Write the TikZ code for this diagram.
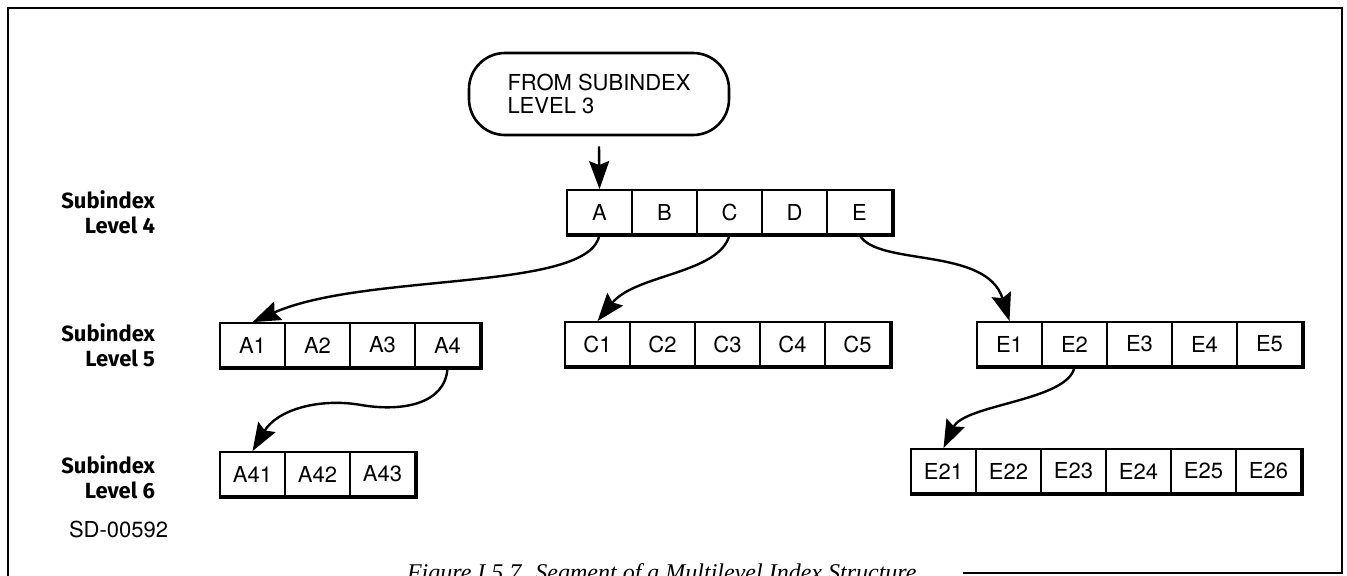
\documentclass[tikz,border=0pt]{standalone}
\usepackage{fontspec}
\setmainfont{TeX Gyre Heros}
\newfontfamily\levelfont{Fira Sans}
\newfontfamily\capfont{Liberation Serif}
\usetikzlibrary{arrows.meta}
\tikzset{
    cell/.style={draw, line width=0.9pt, minimum width=32.5pt, minimum height=22pt,
            inner sep=0pt, font=\fontsize{11}{12}\selectfont},
    shade/.style={line width=2.2pt},
    link/.style={line width=1.2pt, -{Stealth[length=14pt,width=10pt,inset=2pt]}},
    level/.style={anchor=east, align=right, font=\levelfont\bfseries\fontsize{11}{12.5}\selectfont},
}

\begin{document}
\begin{tikzpicture}[x=0.5pt, y=-0.5pt]
        \useasboundingbox (0,0) rectangle (1347,575);
        \clip (0,0) rectangle (1347,575);
        %frame round the figure
        \draw[line width=1.4pt] (963,573) -- (1342,573) -- (1342,8) -- (8,8) -- (8,590);
        \node[anchor=base west, font=\capfont\itshape\fontsize{12}{14}\selectfont] (caption) at (400,580)
            {Figure I.5.7. Segment of a Multilevel Index Structure};
        %entry from level 3
        \node[draw, line width=1.3pt, rounded corners=18pt, minimum width=130pt, minimum height=41pt,
            align=left, font=\fontsize{11}{11.5}\selectfont] (from) at (599,94) {FROM SUBINDEX\\LEVEL 3};
        %level labels
        \node[level] (lev4) at (162,212) {Subindex\\Level 4};
        \node[level] (lev5) at (162,345) {Subindex\\Level 5};
        \node[level] (lev6) at (162,477) {Subindex\\Level 6};
        \node[anchor=west, font=\fontsize{11}{12}\selectfont] (sd) at (62,529) {SD-00592};
        %subindex level 4
        \foreach \n [count=\i from 0] in {A,B,C,D,E}
            \node[cell] (\n) at (599.5+65*\i, 212) {\n};
        \draw[shade] (A.south west) -- (E.south east) -- (E.north east);
        %subindex level 5
        \foreach \n [count=\i from 0] in {A1,A2,A3,A4}
            \node[cell] (\n) at (252.5+65*\i, 345) {\n};
        \draw[shade] (A1.south west) -- (A4.south east) -- (A4.north east);
        \foreach \n [count=\i from 0] in {C1,C2,C3,C4,C5}
            \node[cell] (\n) at (597.5+65*\i, 344) {\n};
        \draw[shade] (C1.south west) -- (C5.south east) -- (C5.north east);
        \foreach \n [count=\i from 0] in {E1,E2,E3,E4,E5}
            \node[cell] (\n) at (1009.5+65*\i, 344) {\n};
        \draw[shade] (E1.south west) -- (E5.south east) -- (E5.north east);
        %subindex level 6
        \foreach \n [count=\i from 0] in {A41,A42,A43}
            \node[cell] (\n) at (252.5+65*\i, 474) {\n};
        \draw[shade] (A41.south west) -- (A43.south east) -- (A43.north east);
        \foreach \n [count=\i from 0] in {E21,E22,E23,E24,E25,E26}
            \node[cell] (\n) at (943.5+65*\i, 471) {\n};
        \draw[shade] (E21.south west) -- (E26.south east) -- (E26.north east);
        %pointers down the levels
        \draw[link] ([yshift=-5pt]from.south) -- (A.north);
        \draw[link] (A.south) .. controls +(-10,57) and +(113,-50) .. (A1.north);
        \draw[link] (C.south) .. controls +(-10,39) and +(38,-47) .. (C1.north);
        \draw[link] (E.south) .. controls +(18,32) and +(-23,-75) .. (E1.north);
        \draw[link] (A4.south) .. controls +(-2,37) and +(40,7) .. ++(-87,37)
            .. controls +(-40,-7) and +(25,-42) .. (A41.north);
        \draw[link] (E2.south) .. controls +(-6,34) and +(21,-44) .. (E21.north);
    \end{tikzpicture}
\end{document}
